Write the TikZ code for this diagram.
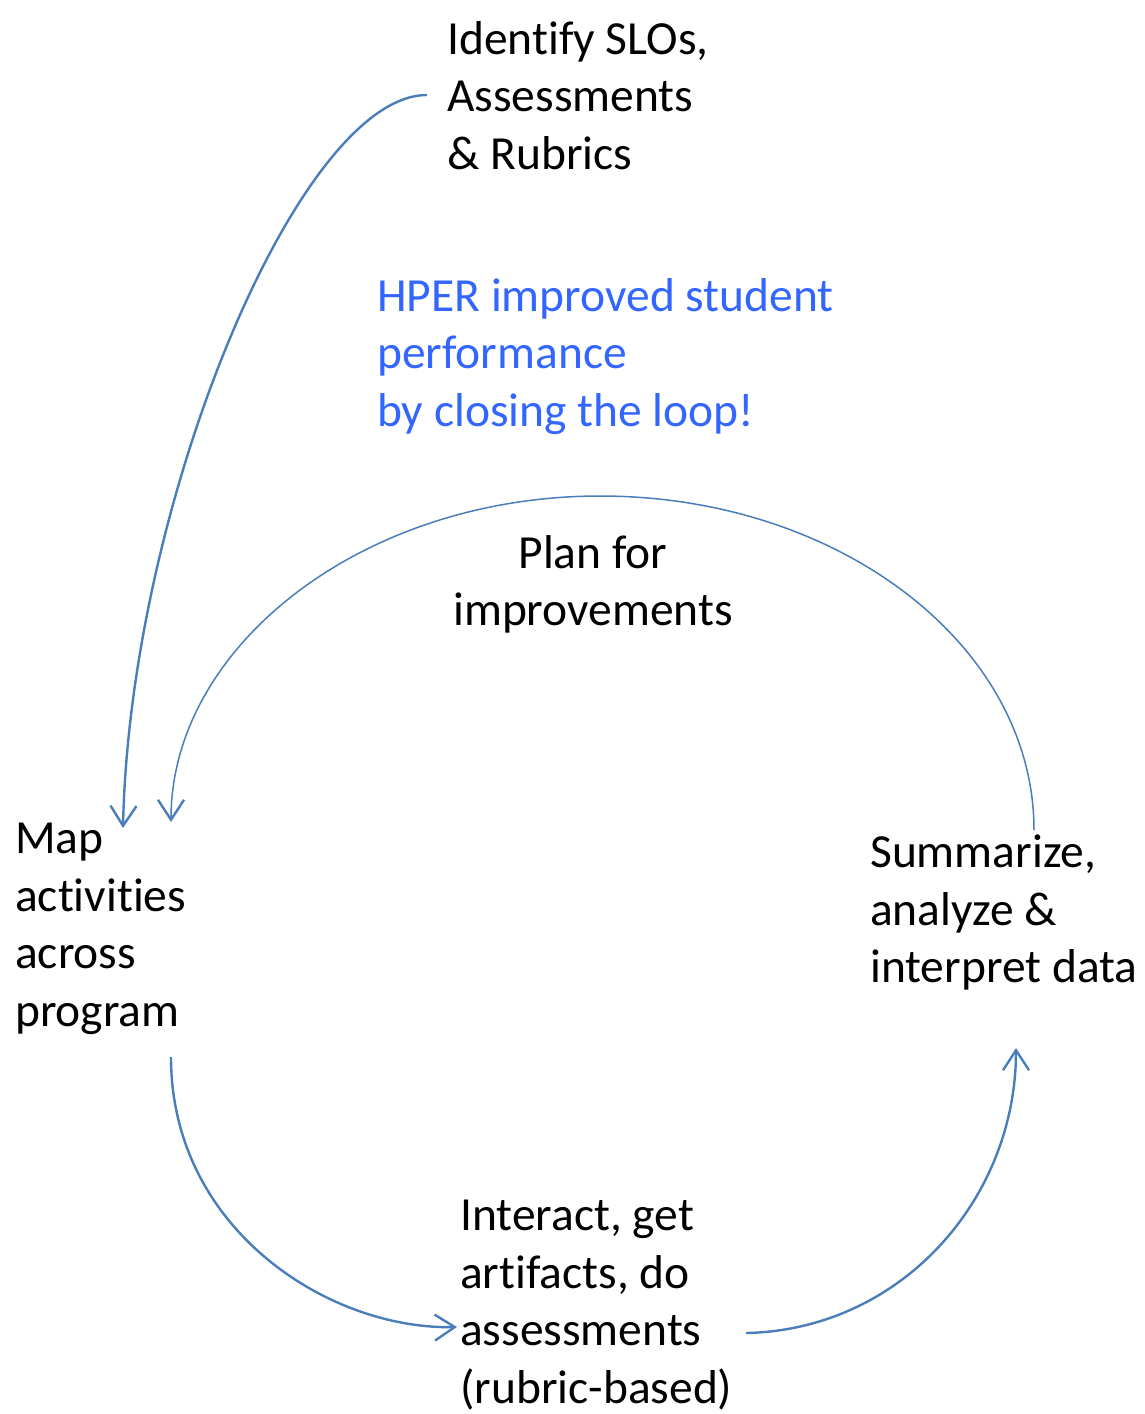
\documentclass[tikz,border=0pt]{standalone}
\usepackage{fontspec}
\setmainfont{Carlito}[Ligatures=NoCommon]
\usetikzlibrary{arrows.meta}
\definecolor{loopblue}{RGB}{74,126,187}
\definecolor{hperblue}{RGB}{51,102,255}
\begin{document}
\begin{tikzpicture}[x=1pt, y=-1pt, font=\fontsize{47.5}{57.5}\selectfont]
    \tikzstyle{step label}=[inner sep=0pt, align=left, anchor=north west]
    \tikzstyle{loop}=[draw=loopblue, line width=2.4pt, -{Straight Barb[length=20pt, width=26pt, line width=2.4pt]}]
    \useasboundingbox (0,0) rectangle (1145,1414);
    % step texts
    \node[step label] (slo) at (447,21) {Identify SLOs,\\Assessments\\\& Rubrics};
    \node[step label, text=hperblue] (hper) at (377,278) {HPER improved student\\performance\\by closing the loop!};
    \node[step label, align=center, anchor=north] (plan) at (593,535) {Plan for\\improvements};
    \node[step label] (map) at (15,823) {Map\\activities\\across\\program};
    \node[step label] (summ) at (870,835) {Summarize,\\analyze \&\\interpret data};
    \node[step label] (inter) at (460,1200) {Interact, get\\artifacts, do\\assessments\\(rubric-based)};
    % connectors
    \coordinate (sloL) at (427,95);
    \coordinate (mapA) at (123,828);
    \coordinate (mapB) at (171,822);
    \coordinate (mapC) at (171,1057);
    \coordinate (interA) at (457,1327);
    \coordinate (interB) at (746,1333);
    \coordinate (summA) at (1016,1048);
    \coordinate (summB) at (1034,830);
    \draw[loop] (sloL) .. controls (300,95) and (130,500) .. (mapA);
    \draw[loop, line width=1.5pt] (summB) .. controls (1034,646) and (840,496) .. (600,496)
        .. controls (363,496) and (171,646) .. (mapB);
    \draw[loop] (mapC) .. controls (171,1230) and (330,1330) .. (interA);
    \draw[loop] (interB) .. controls (900,1330) and (1016,1200) .. (summA);
\end{tikzpicture}
\end{document}
